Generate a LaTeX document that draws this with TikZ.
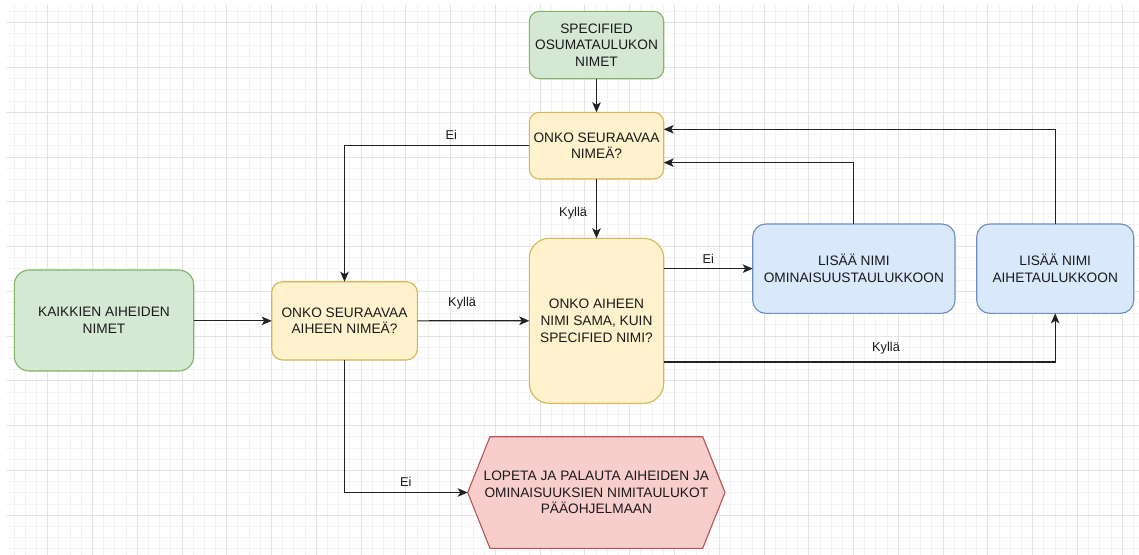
\documentclass[tikz,border=0pt]{standalone}
\usepackage{fontspec}
\setmainfont{Liberation Sans}
\usetikzlibrary{arrows.meta,calc}

\definecolor{gfill}{HTML}{D5E8D4}\definecolor{gline}{HTML}{82B366}
\definecolor{yfill}{HTML}{FFF2CC}\definecolor{yline}{HTML}{D6B656}
\definecolor{bfill}{HTML}{DAE8FC}\definecolor{bline}{HTML}{6C8EBF}
\definecolor{rfill}{HTML}{F8CECC}\definecolor{rline}{HTML}{B85450}
\definecolor{gridminor}{HTML}{F3F3F3}\definecolor{gridmajor}{HTML}{E4E4E4}
\definecolor{ink}{HTML}{1A1A1A}
\definecolor{wire}{HTML}{222222}

\tikzset{
  box/.style={rectangle, inner sep=0pt, outer sep=0pt, line width=1.1pt,
    align=center, text=ink, font=\fontsize{13.7}{16.7}\selectfont},
  startbox/.style={box, draw=gline, fill=gfill},
  askbox/.style={box, draw=yline, fill=yfill},
  addbox/.style={box, draw=bline, fill=bfill},
  flow/.style={draw=wire, line width=1.2pt,
    -{Stealth[length=10pt,width=8.5pt,inset=2.5pt]}},
  lbl/.style={inner sep=0pt, text=ink, font=\fontsize{12.8}{14}\selectfont},
}

\begin{document}
\begin{tikzpicture}[x=1pt,y=-1pt]
\useasboundingbox (0,0) rectangle (1139,554);
\fill[white] (0,0) rectangle (1139,554);

% background grid
\begin{scope}
  \clip (6,5) rectangle (1139,554);
  \foreach \k in {0,...,102} \draw[gridminor, line width=0.9pt] ({2.9+11.1925*\k},0) -- ++(0,560);
  \foreach \k in {-2,...,48} \draw[gridminor, line width=0.9pt] (0,{22.7+11.1925*\k}) -- ++(1145,0);
  \foreach \k in {0,...,25} \draw[gridmajor, line width=0.9pt] ({2.9+44.77*\k},0) -- ++(0,560);
  \foreach \k in {-1,...,12} \draw[gridmajor, line width=0.9pt] (0,{22.7+44.77*\k}) -- ++(1145,0);
\end{scope}

% nodes
\node[startbox, rounded corners=10pt, minimum width=134.4pt, minimum height=67.4pt]
  (spec) at (596.5,45) {SPECIFIED\\OSUMATAULUKON\\NIMET};
\node[askbox, rounded corners=10pt, minimum width=134.4pt, minimum height=66.7pt]
  (q1) at (596.5,145.65) {ONKO SEURAAVAA\\NIMEÄ?};
\node[startbox, rounded corners=15pt, minimum width=179.4pt, minimum height=101pt]
  (g1) at (104,320.5) {KAIKKIEN AIHEIDEN\\NIMET};
\node[askbox, rounded corners=11pt, minimum width=145.6pt, minimum height=78.3pt]
  (q2) at (344.5,320.85) {ONKO SEURAAVAA\\AIHEEN NIMEÄ?};
\node[askbox, rounded corners=20pt, minimum width=134.4pt, minimum height=165pt]
  (big) at (596.5,320.8) {ONKO AIHEEN\\NIMI SAMA, KUIN\\SPECIFIED NIMI?};
\node[addbox, rounded corners=13pt, minimum width=202.3pt, minimum height=89.3pt]
  (b1) at (853.85,268.65) {LISÄÄ NIMI\\OMINAISUUSTAULUKKOON};
\node[addbox, rounded corners=13pt, minimum width=157pt, minimum height=89.3pt]
  (b2) at (1055.2,268.65) {LISÄÄ NIMI\\AIHETAULUKKOON};

% hexagonal end node
\node[box, minimum width=257.3pt, minimum height=111.6pt] (end) at (596.35,492.5) {};
\filldraw[fill=rfill, draw=rline, line width=1.1pt, line join=miter]
  (end.west) -- ($(end.north west)+(22.3,0)$) -- ($(end.north east)+(-22.3,0)$)
  -- (end.east) -- ($(end.south east)+(-22.3,0)$) -- ($(end.south west)+(22.3,0)$) -- cycle;
\node[box] at (end.center) {LOPETA JA PALAUTA AIHEIDEN JA\\OMINAISUUKSIEN NIMITAULUKOT\\PÄÄOHJELMAAN};

% connectors
\draw[flow] (spec.south) -- (q1.north);
\draw[flow] (q1.west) -| node[lbl, pos=0.211, yshift=10.7pt] {Ei} (q2.north);
\draw[flow] (q1.south) -- node[lbl, pos=0.578, xshift=-23.4pt] {Kyllä} (big.north);
\draw[flow] (g1.east |- q2.west) -- (q2.west);
\draw[flow] (q2.east) -- node[lbl, pos=0.40, yshift=18pt] {Kyllä} (big.west);
\draw[flow] (b1.west -| big.east) -- node[lbl, pos=0.5, yshift=9.3pt] {Ei} (b1.west);
\draw[flow] ($(big.east)+(0,41.2)$) -| node[lbl, pos=0.284, yshift=13.7pt] {Kyllä} (b2.south);
\draw[flow] (b1.north) |- ($(q1.east)+(0,17)$);
\draw[flow] (b2.north) |- ($(q1.east)+(0,-16.35)$);
\draw[flow] (q2.south) |- node[lbl, pos=0.749, yshift=10.6pt] {Ei} (end.west);
\end{tikzpicture}
\end{document}
